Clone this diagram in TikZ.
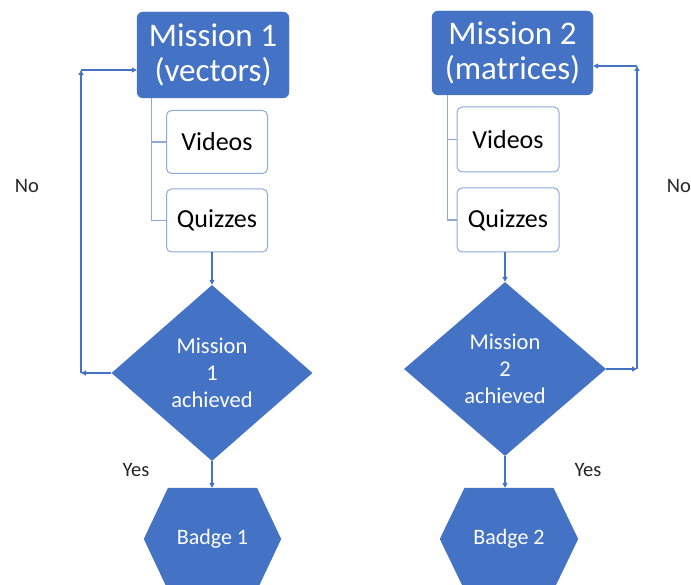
\documentclass[tikz,border=0pt]{standalone}
\usepackage{fontspec}
\setmainfont{Carlito}
\usetikzlibrary{shapes.geometric,arrows.meta,backgrounds}
\definecolor{obl}{HTML}{4472C4}
\definecolor{lbl}{HTML}{8EA9DB}
\begin{document}
\begin{tikzpicture}[x=1pt,y=-1pt,
 mission/.style={draw=obl,fill=obl,rounded corners=6pt,text=white,font=\fontsize{33}{35}\selectfont,align=center,inner sep=0pt},
 sub/.style={draw=lbl,line width=1pt,fill=white,rounded corners=5pt,font=\fontsize{26}{30}\selectfont,inner sep=0pt,minimum width=101pt,minimum height=63pt},
 decision/.style={diamond,fill=obl,text=white,font=\fontsize{22.5}{27}\selectfont,align=center,inner sep=0pt,aspect=1.1},
 badge/.style={text=white,font=\fontsize{22}{26}\selectfont,inner sep=0pt,minimum width=137pt,minimum height=102pt},
 tree/.style={draw=lbl,line width=1.2pt},
 conn/.style={draw=obl,line width=1.3pt},
 arr/.style={conn,-{Triangle[length=5pt,width=5pt]}},
 lab/.style={font=\fontsize{20.5}{24}\selectfont,text=black!85}
]
\useasboundingbox (0,0) rectangle (691,585);
\clip (0,0) rectangle (691,585);

% ---- Mission 1 ----
\node[mission,minimum width=152pt,minimum height=86pt] (m1) at (213,55) {Mission 1\\(vectors)};
\node[sub] (v1) at (217,142) {Videos};
\node[sub] (q1) at (217,220.5) {Quizzes};
\node[decision,minimum width=201pt,minimum height=176pt] (d1) at (212,373) {Mission\\1\\achieved};
\node[badge] (b1) at (212.5,539) {Badge 1};
\begin{scope}[on background layer]
\fill[obl] ([xshift=-44.5pt]b1.north) -- ([xshift=44.5pt]b1.north) -- (b1.east) -- ([xshift=44.5pt]b1.south) -- ([xshift=-44.5pt]b1.south) -- (b1.west) -- cycle;
\end{scope}

\draw[tree] ([xshift=15pt]m1.south west) |- (v1.west);
\draw[tree] ([xshift=15pt]m1.south west) |- (q1.west);
\draw[arr] (d1.north |- q1.south) -- (d1.north);
\draw[arr] (d1.south) -- (d1.south |- b1.north);

\coordinate (l1a) at (81,70);
\coordinate (l1b) at (l1a |- d1.west);
\draw[arr] (d1.west) -- (l1b);
\draw[arr] (l1b) -- (l1a);
\draw[arr] (l1a) -- (l1a -| m1.west);

\node[lab] (no1) at (27,186) {No};
\node[lab] (yes1) at (136,470) {Yes};

% ---- Mission 2 ----
\node[mission,minimum width=161pt,minimum height=84pt] (m2) at (512.5,53) {Mission 2\\(matrices)};
\node[sub,minimum width=102pt,minimum height=65pt] (v2) at (508,139.5) {Videos};
\node[sub,minimum width=102pt,minimum height=64pt] (q2) at (508,220) {Quizzes};
\node[decision,minimum width=202pt,minimum height=174pt] (d2) at (505,369) {Mission\\2\\achieved};
\node[badge,minimum width=138pt] (b2) at (509,539) {Badge 2};
\begin{scope}[on background layer]
\fill[obl] ([xshift=-44.5pt]b2.north) -- ([xshift=44.5pt]b2.north) -- (b2.east) -- ([xshift=44.5pt]b2.south) -- ([xshift=-44.5pt]b2.south) -- (b2.west) -- cycle;
\end{scope}

\draw[tree] ([xshift=16pt]m2.south west) |- (v2.west);
\draw[tree] ([xshift=16pt]m2.south west) |- (q2.west);
\draw[arr] (d2.north |- q2.south) -- (d2.north);
\draw[arr] (d2.south) -- (d2.south |- b2.north);

\coordinate (l2a) at (637,66);
\coordinate (l2b) at (l2a |- d2.east);
\draw[arr] (d2.east) -- (l2b);
\draw[arr] (l2b) -- (l2a);
\draw[arr] (l2a) -- (l2a -| m2.east);

\node[lab] (no2) at (679,186) {No};
\node[lab] (yes2) at (588,470) {Yes};
\end{tikzpicture}
\end{document}
